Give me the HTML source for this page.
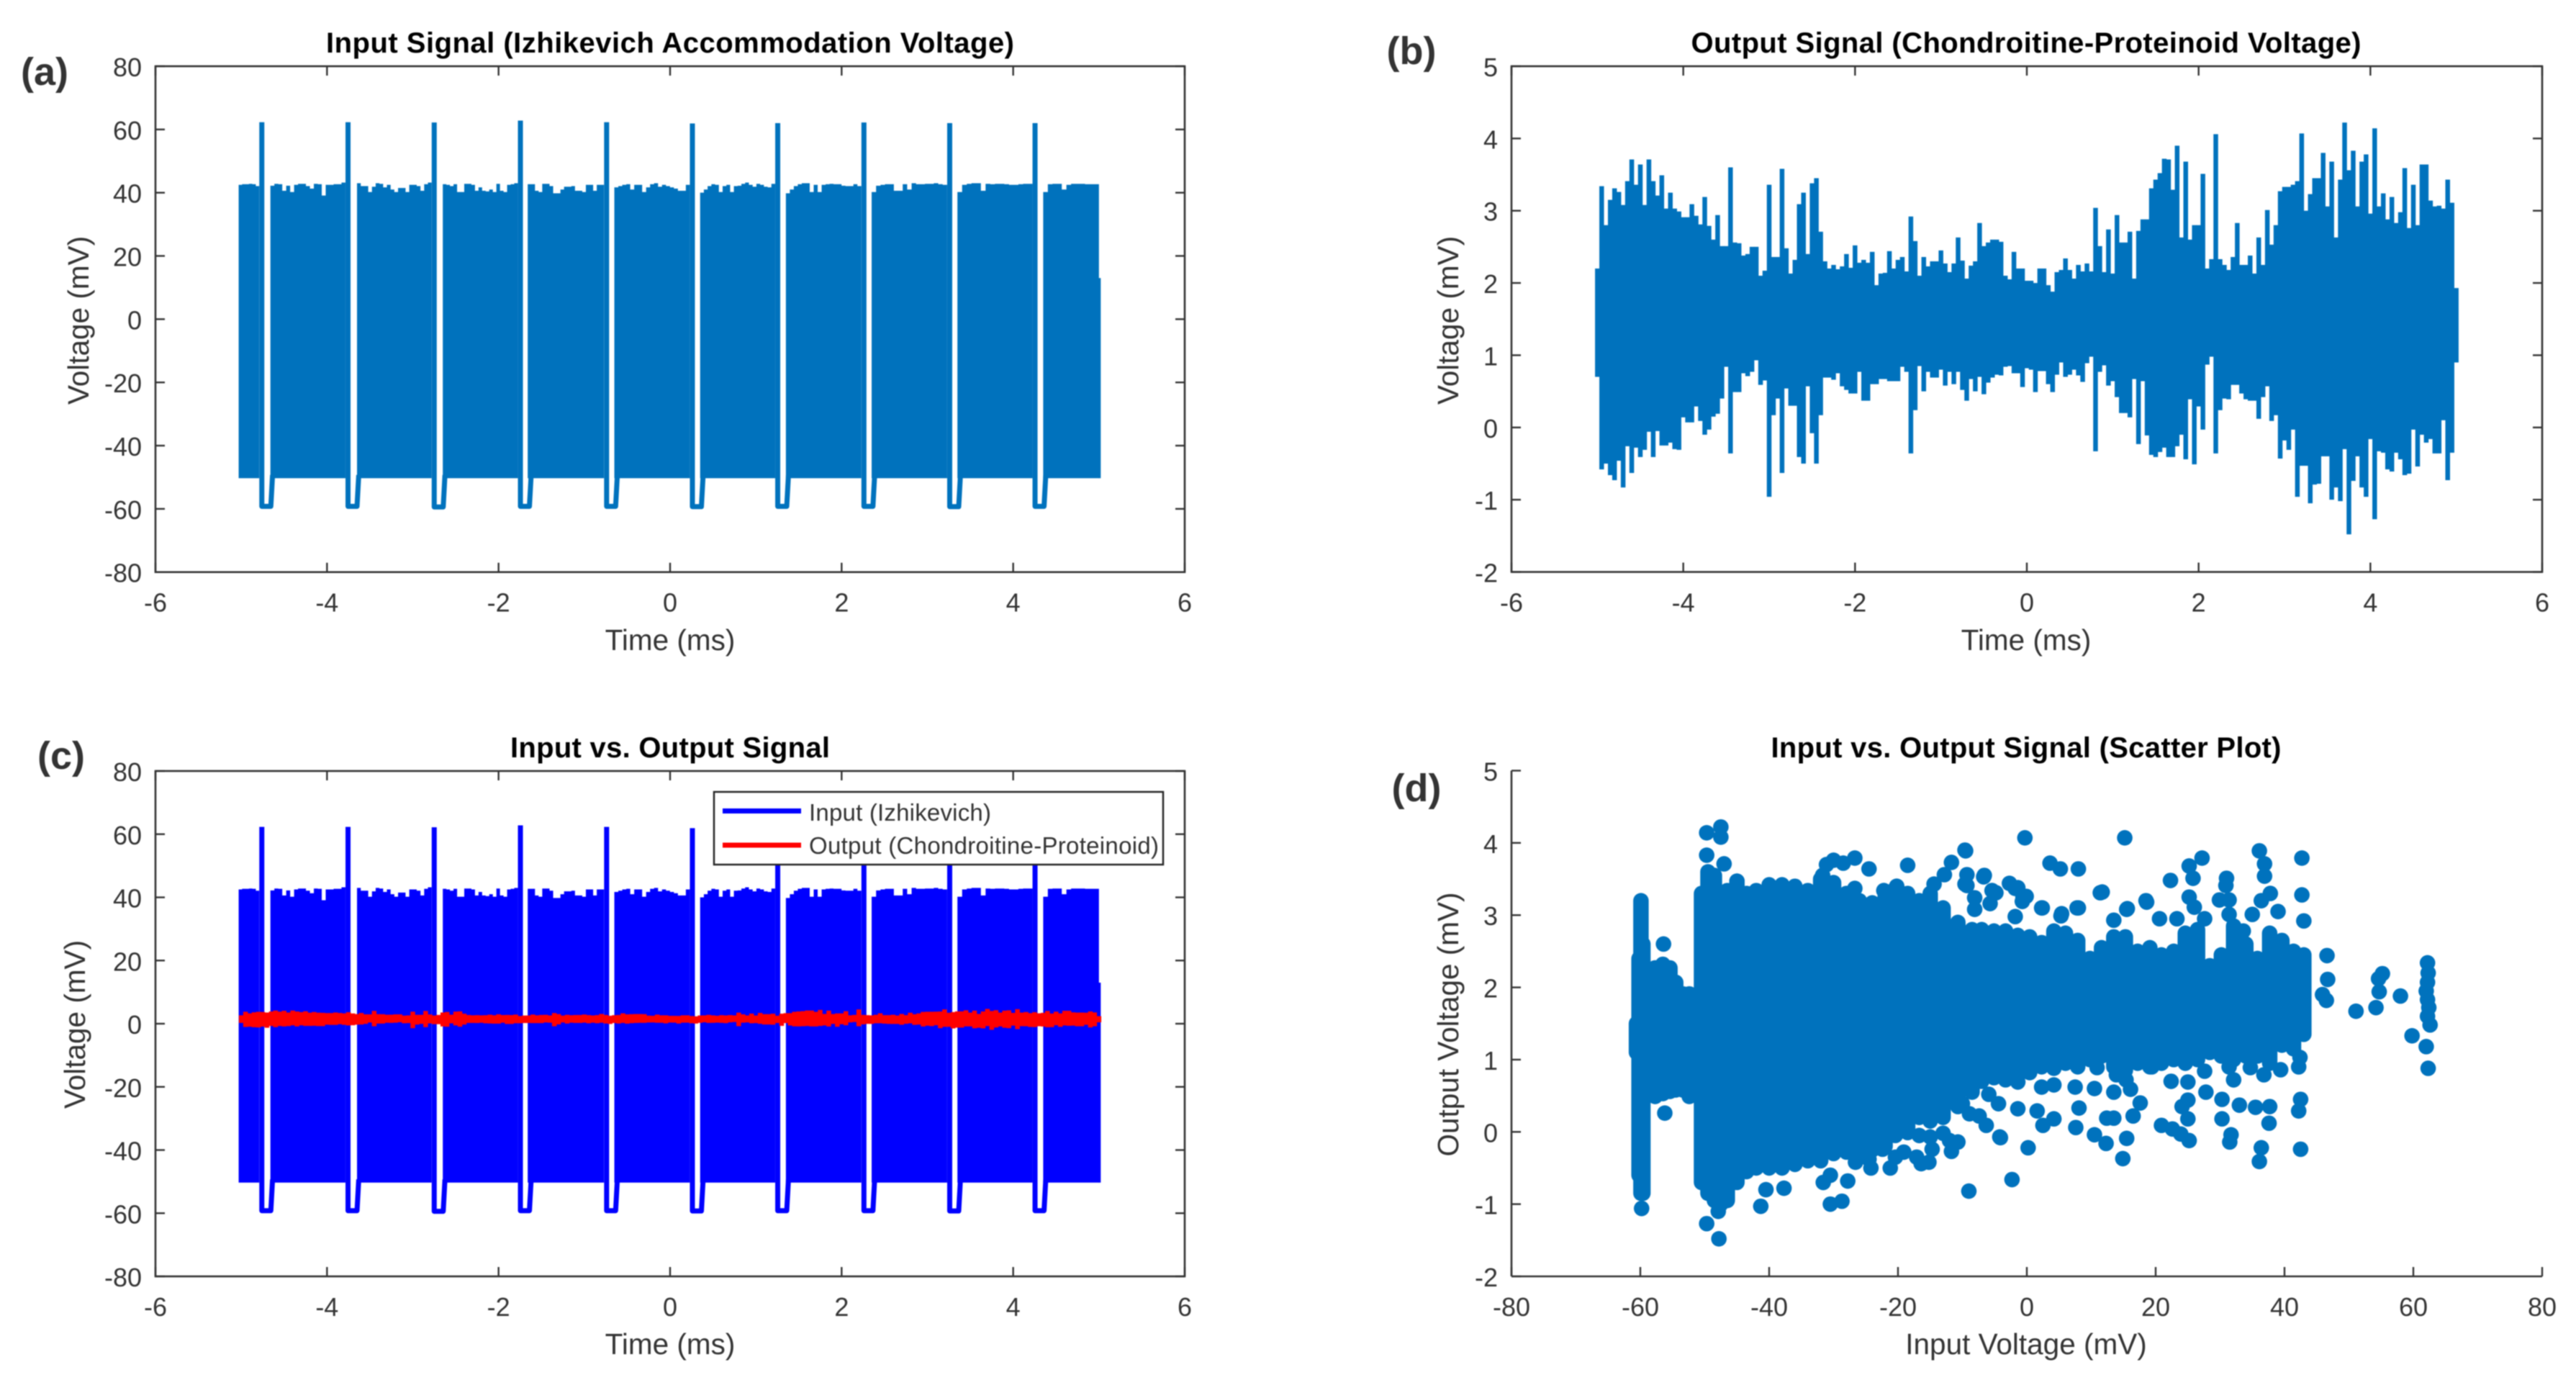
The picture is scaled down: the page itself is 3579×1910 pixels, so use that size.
<!DOCTYPE html>
<html lang="en">
<head>
<meta charset="utf-8">
<title>Izhikevich input versus chondroitine-proteinoid output signals</title>
<style>
html,body{margin:0;padding:0;background:#fff;}
svg{display:block;filter:blur(0.7px);}
text{font-family:"Liberation Sans",Arial,sans-serif;fill:#333;}
.title{font-size:40px;font-weight:bold;fill:#000;text-anchor:middle;}
.axis-label{font-size:40.5px;text-anchor:middle;}
.tick{font-size:36px;}
.panel-tag{font-size:54px;font-weight:bold;fill:#333;text-anchor:middle;}
.legend-text{font-size:33px;}
</style>
</head>
<body>
<svg id="figure" xmlns="http://www.w3.org/2000/svg" width="3579" height="1910" viewBox="0 0 3579 1910">
  <rect x="0" y="0" width="3579" height="1910" fill="#fff"/>
  <g id="panel-a"></g>
  <g id="panel-b"></g>
  <g id="panel-c"></g>
  <g id="panel-d"></g>

  <text class="title" x="931" y="73" textLength="956" lengthAdjust="spacing">Input Signal (Izhikevich Accommodation Voltage)</text>
  <text class="title" x="2815" y="73" textLength="931" lengthAdjust="spacing">Output Signal (Chondroitine-Proteinoid Voltage)</text>
  <text class="title" x="931" y="1052" textLength="444" lengthAdjust="spacing">Input vs. Output Signal</text>
  <text class="title" x="2815" y="1052" textLength="709" lengthAdjust="spacing">Input vs. Output Signal (Scatter Plot)</text>

  <text class="axis-label" x="931" y="903">Time (ms)</text>
  <text class="axis-label" x="2815" y="903">Time (ms)</text>
  <text class="axis-label" x="931" y="1881">Time (ms)</text>
  <text class="axis-label" x="2815" y="1881">Input Voltage (mV)</text>

  <text class="axis-label" transform="translate(123 445) rotate(-90)">Voltage (mV)</text>
  <text class="axis-label" transform="translate(2026 445) rotate(-90)">Voltage (mV)</text>
  <text class="axis-label" transform="translate(118 1423) rotate(-90)">Voltage (mV)</text>
  <text class="axis-label" transform="translate(2026 1423) rotate(-90)">Output Voltage (mV)</text>

  <text class="panel-tag" x="62" y="118">(a)</text>
  <text class="panel-tag" x="1961" y="89">(b)</text>
  <text class="panel-tag" x="85" y="1068">(c)</text>
  <text class="panel-tag" x="1968" y="1113">(d)</text>

  <g id="legend">
    <rect x="992" y="1100" width="624" height="101" fill="#fff" stroke="#262626" stroke-width="2.5"/>
    <line x1="1004" x2="1113" y1="1126.5" y2="1126.5" stroke="#0000ff" stroke-width="7"/>
    <text class="legend-text" x="1124" y="1140" textLength="253" lengthAdjust="spacing">Input (Izhikevich)</text>
    <line x1="1004" x2="1113" y1="1174" y2="1174" stroke="#ff0000" stroke-width="7"/>
    <text class="legend-text" x="1124" y="1186" textLength="486" lengthAdjust="spacing">Output (Chondroitine-Proteinoid)</text>
  </g>
</svg>

<script>
/* ---------- Data ---------- */
const timeTicks = [-6,-4,-2,0,2,4,6];
const inputVoltageTicks = [-80,-60,-40,-20,0,20,40,60,80];
const outputVoltageTicks = [-2,-1,0,1,2,3,4,5];

const spikeTimes = [-4.76,-3.755,-2.75,-1.745,-0.74,0.26,1.255,2.26,3.26,4.255];
const spikePeaks = [62.3,62.3,62.2,62.8,62.3,61.9,62.0,62.2,62.0,62.0];
const spikeTroughs = [-59.2,-59.2,-59.4,-59.2,-59.2,-59.3,-59.2,-59.2,-59.3,-59.2];
const burstStarts = [-5.03,-4.66,-3.65,-2.65,-1.66,-0.65,0.35,1.35,2.35,3.35,4.35];
const burstEnds = [-4.79,-3.785,-2.78,-1.775,-0.77,0.23,1.225,2.23,3.23,4.225,5.0];
const burstFloor = -50.3;
const finalInputVoltage = 13;
const burstTops = [
 [42.5,42.7,42.7,42.8,42.7,42.1],
 [42.2,42.8,42.7,40.6,42.2,40.2,42.5,42.8,42.8,42.1,41.3,42.8,42.7,39.1,42.5,42.5,42.7,42.7,43.2],
 [43,42.1,42.1,40.2,41.9,43,42.8,41.7,42.5,41,40.2,41.5,41.5,40.2,42.5,42.5,42.1,40.6,42.7,43.2],
 [42.7,42.5,42.1,42.7,40.2,40.2,42.8,42.8,42.5,40.6,41.7,40.6,40.4,41,40.2,42.8,40.6,40.2,42.5,42.7,43],
 [42.7,42.7,40.6,40.2,42.8,42.8,42.1,39.8,39.8,41,41.9,41.9,42.1,40.6,40.6,40.2,42.5,42.5,40.6,42.5,42.5],
 [41.7,42.1,42.5,42.7,41,42.5,42.5,40.2,41.7,42.7,43,41.9,42.5,42.1,41.7,41.3,40.6,40.6,42.5],
 [40,41,42.1,42.7,42.5,40.2,42.1,42.5,40.2,42.1,42.2,42.8,43.2,42.5,41.9,42.8,42.5,41.9,41.7,42.8],
 [39.8,41,42.1,42.7,43,43,40.2,42.5,40.2,42.5,42.7,42.8,42.7,42.7,42.2,42.1,42.1,42.7,42.1],
 [40.2,42.2,42.5,42.7,42.7,40.6,40.6,42.7,41,43,42.7,42.7,42.8,42.8,43,42.7,42.5],
 [40.2,42.5,42.8,43,43,40.6,42.8,42.7,42.8,42.8,42.7,42.5,42.5,42.7,42.8,42.8],
 [40.2,42.7,42.8,42.8,41,42.5,42.8,42.8,42.8,42.7,42.7,42.7]
];

const outputTime = [
 -5,-4.95,-4.9,-4.85,-4.8,-4.75,-4.7,-4.65,-4.6,-4.55,-4.5,-4.45,-4.4,-4.35,-4.3,-4.25,-4.2,-4.15,-4.1,-4.05,
 -4,-3.95,-3.9,-3.85,-3.8,-3.75,-3.7,-3.65,-3.6,-3.55,-3.5,-3.45,-3.4,-3.35,-3.3,-3.25,-3.2,-3.15,-3.1,-3.05,
 -3,-2.95,-2.9,-2.85,-2.8,-2.75,-2.7,-2.65,-2.6,-2.55,-2.5,-2.45,-2.4,-2.35,-2.3,-2.25,-2.2,-2.15,-2.1,-2.05,
 -2,-1.95,-1.9,-1.85,-1.8,-1.75,-1.7,-1.65,-1.6,-1.55,-1.5,-1.45,-1.4,-1.35,-1.3,-1.25,-1.2,-1.15,-1.1,-1.05,
 -1,-0.95,-0.9,-0.85,-0.8,-0.75,-0.7,-0.65,-0.6,-0.55,-0.5,-0.45,-0.4,-0.35,-0.3,-0.25,-0.2,-0.15,-0.1,-0.05,
 0,0.05,0.1,0.15,0.2,0.25,0.3,0.35,0.4,0.45,0.5,0.55,0.6,0.65,0.7,0.75,0.8,0.85,0.9,0.95,
 1,1.05,1.1,1.15,1.2,1.25,1.3,1.35,1.4,1.45,1.5,1.55,1.6,1.65,1.7,1.75,1.8,1.85,1.9,1.95,
 2,2.05,2.1,2.15,2.2,2.25,2.3,2.35,2.4,2.45,2.5,2.55,2.6,2.65,2.7,2.75,2.8,2.85,2.9,2.95,
 3,3.05,3.1,3.15,3.2,3.25,3.3,3.35,3.4,3.45,3.5,3.55,3.6,3.65,3.7,3.75,3.8,3.85,3.9,3.95,
 4,4.05,4.1,4.15,4.2,4.25,4.3,4.35,4.4,4.45,4.5,4.55,4.6,4.65,4.7,4.75,4.8,4.85,4.9,4.95,
 5
];
const outputHigh = [
 2.2,3.34,2.8,3.15,3.31,3.26,3.08,3.41,3.71,3.36,
 3.64,3.08,3.71,3.41,3.21,3.49,3.03,3.25,3.03,2.99,
 2.91,2.91,3.09,2.93,2.81,3.19,2.79,2.6,2.94,2.51,
 2.51,3.6,2.56,2.55,2.38,2.4,2.5,2.5,2.1,2.17,
 3.36,2.36,2.36,3.58,2.48,2.13,2.32,3.09,3.25,2.4,
 3.38,3.45,2.71,2.3,2.2,2.25,2.19,2.23,2.4,2.21,
 2.52,2.28,2.32,2.28,2.43,1.97,2.13,2.14,2.44,2.2,
 2.32,2.36,2.16,2.92,2.58,2.1,2.36,2.23,2.3,2.3,
 2.45,2.27,2.15,2.27,2.63,2.31,2.06,2.24,2.3,2.83,
 2.51,2.56,2.6,2.6,2.57,2.1,2.05,2.43,2.2,2.2,
 2.03,2.03,2.0,2.2,2.2,1.97,1.88,2.15,2.18,2.34,
 2.18,2.06,2.25,2.16,2.27,2.16,3.04,2.51,2.15,2.74,
 2.13,2.94,2.56,2.56,2.71,2.06,2.72,2.88,2.88,3.31,
 3.43,3.52,3.72,3.71,3.29,3.9,2.63,3.68,2.6,2.8,
 2.8,3.51,2.2,2.33,4.06,2.33,2.25,2.18,2.36,2.83,
 2.25,2.25,2.38,2.13,2.63,2.25,3.01,2.53,2.8,3.27,
 3.33,3.33,3.36,3.41,4.07,3.0,3.23,3.45,3.45,3.8,
 3.06,3.68,2.63,3.43,4.22,3.56,3.83,3.06,3.68,3.78,
 2.96,4.14,3.06,3.24,2.88,3.19,2.83,2.98,3.59,2.76,
 3.36,2.8,3.64,3.64,3.14,3.06,3.07,3.03,3.43,3.11,
 1.93
];
const outputLow = [
 0.7,-0.58,-0.5,-0.66,-0.73,-0.46,-0.83,-0.26,-0.63,-0.28,
 -0.41,-0.31,-0.06,-0.41,-0.05,-0.25,-0.25,-0.21,-0.3,-0.31,
 0.14,0.07,0.07,0.29,0.09,-0.1,-0.03,0.15,0.19,0.4,
 0.84,-0.36,0.49,0.49,0.75,0.71,0.77,0.93,0.59,0.65,
 -0.96,0.17,0.4,-0.63,0.54,0.3,0.3,-0.41,-0.5,0.57,
 -0.08,-0.5,0.17,0.69,0.69,0.66,0.75,0.57,0.52,0.47,
 0.47,0.77,0.37,0.37,0.6,0.6,0.67,0.67,0.64,0.64,
 0.64,0.84,0.77,-0.36,0.24,0.85,0.5,0.77,0.69,0.69,
 0.8,0.58,0.77,0.6,0.77,0.52,0.37,0.67,0.5,0.7,
 0.46,0.62,0.69,0.73,0.72,0.84,0.85,0.75,0.75,0.56,
 0.82,0.8,0.49,0.78,0.78,0.6,0.49,0.73,0.9,0.7,
 0.73,0.8,0.72,0.63,0.89,0.98,-0.33,0.77,0.86,0.58,
 0.64,0.42,0.2,0.2,0.14,0.67,-0.23,0.64,-0.11,-0.38,
 -0.41,-0.34,-0.28,-0.41,-0.41,-0.26,-0.1,-0.44,0.39,-0.51,
 0.29,-0.03,0.87,0.98,-0.36,0.24,0.4,0.39,0.59,0.59,
 0.47,0.39,0.37,0.37,0.12,0.42,0.57,0.09,0.17,-0.43,
 -0.18,-0.31,-0.03,-0.96,-0.53,-0.53,-1.05,-0.79,-0.78,-0.4,
 -0.4,-1.0,-0.83,-1.02,-0.3,-1.48,-0.74,-0.4,-0.83,-0.96,
 -0.16,-1.27,-0.33,-0.35,-0.58,-0.61,-0.35,-0.44,-0.66,-0.64,
 -0.03,-0.54,-0.1,-0.21,-0.16,-0.36,-0.36,0.1,-0.73,-0.35,
 0.9
];

const scatterXTicks = [-80,-60,-40,-20,0,20,40,60,80];
const scatterYTicks = [-2,-1,0,1,2,3,4,5];

/* dense part of the scatter cloud: one column of overlapping markers per input voltage */
const cloudInput = [-60.6,-60.2,-59.9,-59.6,-57.7,-56.5,-55.4,-54.5,-53.4,-52.4,-50.5,-49.5,-48.5,-47.5,-46.5,-45,-43.5,-42,-40,-38,-36,-34,-32,-30,-28,-26,-24,-22,-20.4,-18.5,-16.7,-15,-13,-10.7,-8.5,-7,-5.1,-3.3,-1.4,0.44,2.3,4.2,6,7.9,9.8,11.6,13.5,15.3,17.2,19.1,20.9,22.8,24.6,26.5,28.4,30.2,32.1,34,35.8,37.7,39.6,41.4,43];
const cloudHigh = [1.5,2.4,3.2,2.6,2.27,2.32,2.27,2.07,1.91,1.91,3.3,3.6,3.55,3.3,3.34,3.47,3.3,3.34,3.42,3.42,3.4,3.34,3.5,3.45,3.3,3.2,3.17,3.25,3.37,3.3,3.2,3.3,3.1,2.9,2.8,2.8,2.78,2.78,2.72,2.7,2.62,2.78,2.75,2.65,2.4,2.55,2.7,2.7,2.5,2.55,2.45,2.5,2.75,2.8,2.3,2.45,2.85,2.6,2.4,2.75,2.65,2.5,2.45];
const cloudLow = [1.1,-0.6,-0.85,-0.85,0.49,0.53,0.56,0.58,0.58,0.49,-0.7,-0.85,-0.95,-1.0,-0.95,-0.7,-0.55,-0.5,-0.5,-0.5,-0.45,-0.4,-0.4,-0.3,-0.28,-0.27,-0.25,-0.2,-0.05,-0.01,0.2,0.15,0.2,0.35,0.55,0.7,0.75,0.72,0.78,0.82,0.9,0.88,0.95,0.9,1.0,1.05,0.9,0.85,0.95,0.9,0.95,1.0,0.95,1.0,1.1,1.05,1.0,1.05,1.05,0.95,1.2,1.15,1.35];

/* individually visible scatter markers */
const pointInput = [
 -49.7,-47.5,-47.5,-49.7,-47,-56.4,-56.2,-45,
 -9.5,-0.3,15.2,3.6,5.2,8,-6.7,-9.3,-9.3,11.7,8,2.3,-2.7,-4.8,-1.4,-0.1,-0.7,-5.7,-8.1,-8.1,-1.8,5.3,
 22.3,25.2,27.2,25.8,25.2,26,31,30.9,29.9,31.4,31.4,36.1,36.9,36.9,37.8,36.4,35,39,42.7,42.7,43,
 15.5,18.6,13.5,20.6,23.3,27.6,33.6,
 46.6,46.7,45.9,46.5,51.1,54.6,55.2,54.2,54.7,58,59.8,62.2,62.2,62.2,62.2,62.6,62,62.3,62.3,62.0,62.4,
 -2.3,0.2,-4.1,-6.3,2.5,4.2,7.6,8.1,10.5,10.5,12.3,15.5,14.9,13.5,13.5,12.4,16.5,17.6,16.1,
 20.9,22.6,23.9,25.2,25,24.1,25,27.8,30.3,30.3,33,35.5,37.7,37.6,31.7,31.5,36.4,36.1,42.5,42.2,42.5,42.4,42.2,
 39.4,36.8,34.7,32.1,31.4,27.6,25,22.4,19.4,15.4,13.9,10.9,7.5,4.2,2.3,-1.4,-1.4,-4.4,-5.9,1.6,-7.4,-8.9,-10,-10.7,
 -9,-4.2,-37.7,-40.5,-41.3,-30.5,-28.7,-31.6,-27.8,-30.5,-49.7,-47.8,-21.2,-19.1,-16.4,-17.1,-14.7,-11.7,-15,-12,-24.5,-26.3,-22.4,-59.8,-47.9,
 -9.6,-6.6,-11.7,-12.8,-18.5,-24.5,-26.7,-28.5,-30,-31.1,-31.7,-26.7,-20.2,-22.2,-14.4,-9.6,-5.4,-1.8,-0.6,2.4,5.4,11.4,7.8,15.6,18.5,-26.6,-24.2,-20.4,-15.2,-16.7,-13
];
const pointOutput = [
 4.14,4.22,4.08,3.83,3.71,2.6,0.26,3.47,
 3.89,4.07,4.07,3.72,3.64,3.64,3.53,3.56,3.41,3.32,3.1,3.1,3.44,3.31,3.38,3.26,3.19,3.16,3.08,3.24,2.98,2.99,
 3.48,3.68,3.79,3.51,3.25,3.11,3.51,3.41,3.21,3.21,3.01,3.89,3.71,3.54,3.3,3.2,3.01,3.05,3.79,3.28,2.92,
 3.08,3.18,2.93,2.95,2.95,2.95,2.78,
 2.44,2.11,1.9,1.82,1.67,2.12,2.19,1.72,1.94,1.88,1.33,2.34,2.07,1.83,1.6,1.48,1.18,0.88,2.2,1.95,1.72,
 -0.66,-0.22,-0.08,0.09,0.09,0.18,0.06,0.33,0.6,-0.04,-0.16,-0.09,-0.37,0.55,0.19,0.19,0.22,0.4,0.59,
 0.09,0.04,-0.03,-0.12,0.44,0.35,0.18,0.55,0.45,0.18,0.37,0.34,0.35,0.12,-0.04,-0.14,-0.22,-0.41,0.45,0.29,-0.24,1.03,0.9,
 0.86,0.79,0.89,0.72,0.9,0.84,0.69,0.7,0.9,0.72,0.79,0.89,0.62,0.65,0.62,0.69,0.32,0.39,0.52,0.29,0.22,0.25,0.39,-0.14,
 -0.82,-0.07,-0.78,-0.8,-1.03,-1.0,-0.96,-0.7,-0.68,-0.6,-1.27,-1.48,-0.5,-0.28,-0.44,-0.35,-0.24,-0.27,-0.07,-0.12,-0.38,-0.3,-0.24,-1.06,-1.1,
 3.9,3.55,3.73,3.56,3.69,3.64,3.79,3.72,3.76,3.7,3.55,3.37,3.4,3.34,3.43,3.43,3.34,3.37,3.25,3.1,3.02,3.31,3.1,3.09,3.2,-0.42,-0.5,-0.35,-0.42,-0.05,-0.02
];

/* ---------- Rendering ---------- */
const SVG_NS = 'http://www.w3.org/2000/svg';
const BLUE = '#0072bd';
const INK = '#333333';

function linearScale(d0, d1, r0, r1) {
  return function (v) { return r0 + (v - d0) * (r1 - r0) / (d1 - d0); };
}
function make(parent, tag, attrs) {
  const el = document.createElementNS(SVG_NS, tag);
  for (const k in attrs) el.setAttribute(k, attrs[k]);
  parent.appendChild(el);
  return el;
}
function fmt(n) { return n.toFixed(2); }

function drawAxes(group, box, sx, sy, xTicks, yTicks, boxed, prefix) {
  if (boxed) {
    const frame = make(group, 'rect', {x: box.l, y: box.t, width: box.r - box.l, height: box.b - box.t, fill: 'none', stroke: INK, 'stroke-width': 2.6});
    
    
  } else {
    const xLine = make(group, 'line', {x1: box.l, x2: box.r, y1: box.b, y2: box.b, stroke: INK, 'stroke-width': 2.6});
    
    
    const yLine = make(group, 'line', {x1: box.l, x2: box.l, y1: box.t, y2: box.b, stroke: INK, 'stroke-width': 2.6});
    
    
  }
  const TICK = 13;
  xTicks.forEach(function (v) {
    const x = sx(v);
    const mark = make(group, 'line', {x1: x, x2: x, y1: box.b, y2: box.b - TICK, stroke: INK, 'stroke-width': 2.4});
    
    
    if (boxed) {
      const top = make(group, 'line', {x1: x, x2: x, y1: box.t, y2: box.t + TICK, stroke: INK, 'stroke-width': 2.4});
      
      
    }
    const label = make(group, 'text', {x: x, y: box.b + 55, 'text-anchor': 'middle', class: 'tick'});
    label.textContent = String(v);
    
    
  });
  yTicks.forEach(function (v) {
    const y = sy(v);
    const mark = make(group, 'line', {x1: box.l, x2: box.l + TICK, y1: y, y2: y, stroke: INK, 'stroke-width': 2.4});
    
    
    if (boxed) {
      const right = make(group, 'line', {x1: box.r, x2: box.r - TICK, y1: y, y2: y, stroke: INK, 'stroke-width': 2.4});
      
      
    }
    const label = make(group, 'text', {x: box.l - 19, y: y + 14, 'text-anchor': 'end', class: 'tick'});
    label.textContent = String(v);
    
    
  });
}

function drawInputSignal(group, sx, sy, color, prefix) {
  burstTops.forEach(function (tops, k) {
    const t0 = burstStarts[k];
    const t1 = burstEnds[k];
    const pts = [[sx(t0), sy(burstFloor)]];
    tops.forEach(function (v, j) {
      const a = t0 + (t1 - t0) * j / tops.length;
      const b = t0 + (t1 - t0) * (j + 1) / tops.length;
      pts.push([sx(a), sy(v)]);
      pts.push([sx(b), sy(v)]);
    });
    pts.push([sx(t1), sy(burstFloor)]);
    const poly = make(group, 'polygon', {points: pts.map(function (p) { return fmt(p[0]) + ',' + fmt(p[1]); }).join(' '), fill: color});
    
    
  });
  spikeTimes.forEach(function (s, i) {
    const route = [[s, spikePeaks[i]], [s, spikeTroughs[i]], [s + 0.105, spikeTroughs[i]], [s + 0.125, burstFloor + 1]];
    const d = route.map(function (p, j) { return (j ? 'L' : 'M') + fmt(sx(p[0])) + ' ' + fmt(sy(p[1])); }).join(' ');
    const spike = make(group, 'path', {d: d, fill: 'none', stroke: color, 'stroke-width': 7, 'stroke-linejoin': 'round'});
    
    
  });
  const tail = make(group, 'line', {x1: sx(5) + 1, x2: sx(5) + 1, y1: sy(burstFloor), y2: sy(finalInputVoltage), stroke: color, 'stroke-width': 3});
  
  
}

function drawOutputSignal(group, sx, sy, color, width, pad, prefix) {
  outputTime.forEach(function (t, i) {
    const x = sx(t);
    const col = make(group, 'line', {x1: fmt(x), x2: fmt(x), y1: fmt(sy(outputLow[i]) + pad), y2: fmt(sy(outputHigh[i]) - pad), stroke: color, 'stroke-width': width});
    
    
  });
}

/* panel a */
const boxA = {l: 216, r: 1646, t: 92, b: 794.7};
const xA = linearScale(-6, 6, boxA.l, boxA.r);
const yA = linearScale(-80, 80, boxA.b, boxA.t);
const groupA = document.getElementById('panel-a');
drawInputSignal(groupA, xA, yA, BLUE, 'panel-a');
drawAxes(groupA, boxA, xA, yA, timeTicks, inputVoltageTicks, true, 'panel-a');

/* panel b */
const boxB = {l: 2100, r: 3532, t: 92, b: 794.5};
const xB = linearScale(-6, 6, boxB.l, boxB.r);
const yB = linearScale(-2, 5, boxB.b, boxB.t);
const groupB = document.getElementById('panel-b');
drawOutputSignal(groupB, xB, yB, BLUE, 6.5, 0, 'panel-b');
drawAxes(groupB, boxB, xB, yB, timeTicks, outputVoltageTicks, true, 'panel-b');

/* panel c */
const boxC = {l: 216, r: 1646, t: 1071, b: 1773};
const xC = linearScale(-6, 6, boxC.l, boxC.r);
const yC = linearScale(-80, 80, boxC.b, boxC.t);
const groupC = document.getElementById('panel-c');
drawInputSignal(groupC, xC, yC, '#0000ff', 'panel-c');
drawOutputSignal(groupC, xC, yC, '#ff0000', 6.5, 2, 'panel-c');
drawAxes(groupC, boxC, xC, yC, timeTicks, inputVoltageTicks, true, 'panel-c');

/* panel d */
const boxD = {l: 2100, r: 3532, t: 1070.5, b: 1773};
const xD = linearScale(-80, 80, boxD.l, boxD.r);
const yD = linearScale(-2, 5, boxD.b, boxD.t);
const groupD = document.getElementById('panel-d');
cloudInput.forEach(function (v, i) {
  const x = xD(v);
  const col = make(groupD, 'line', {x1: fmt(x), x2: fmt(x), y1: fmt(yD(cloudLow[i])), y2: fmt(yD(cloudHigh[i])), stroke: BLUE, 'stroke-width': 21.5, 'stroke-linecap': 'round'});
  
  
});
pointInput.forEach(function (v, i) {
  const dot = make(groupD, 'circle', {cx: fmt(xD(v)), cy: fmt(yD(pointOutput[i])), r: 10.8, fill: BLUE});
  
  
});
drawAxes(groupD, boxD, xD, yD, scatterXTicks, scatterYTicks, false, 'panel-d');

/* legend stays above the traces of panel c */
const figure = document.getElementById('figure');
figure.appendChild(document.getElementById('legend'));
</script>
</body>
</html>
